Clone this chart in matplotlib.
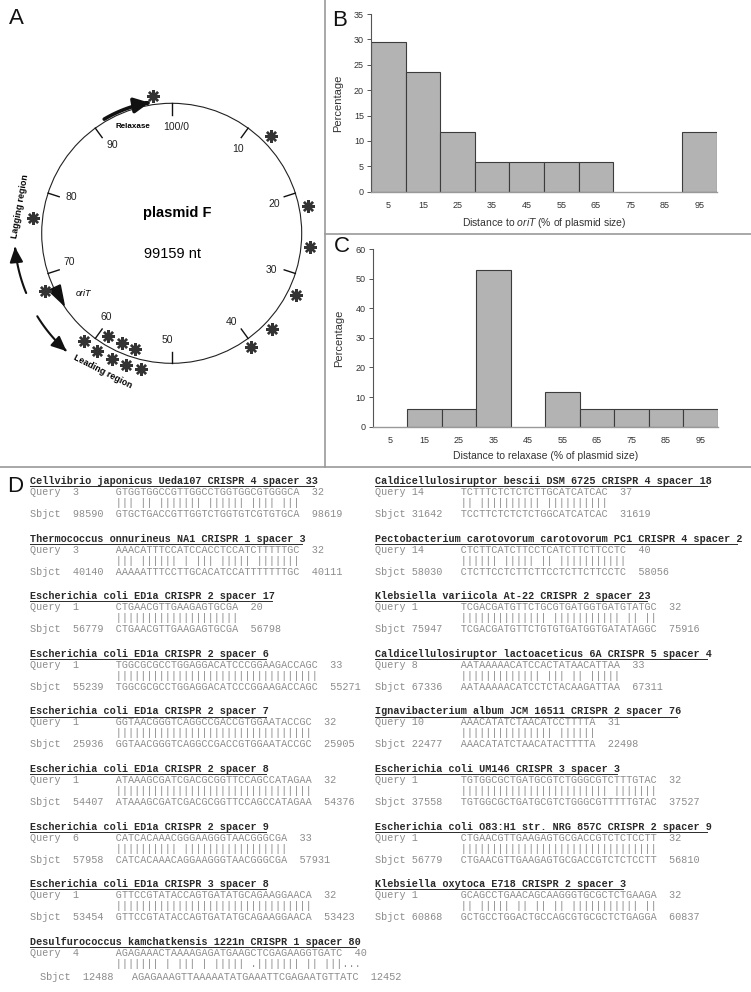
import numpy as np
import matplotlib
matplotlib.use("Agg")
import matplotlib.pyplot as plt
from matplotlib.patches import Circle, FancyArrowPatch, Polygon
from matplotlib.path import Path

W, H = 751, 992
SANS = "Liberation Sans"
MONO = "Liberation Mono"
plt.rcParams["font.family"] = [SANS, "DejaVu Sans"]
plt.rcParams["mathtext.fontset"] = "custom"
plt.rcParams["mathtext.rm"] = SANS
plt.rcParams["mathtext.it"] = SANS + ":italic"

# ---- panel B / C: percentage of protospacers per distance bin ----
bin_centers = [5, 15, 25, 35, 45, 55, 65, 75, 85, 95]
orit_pct = [29.4, 23.5, 11.8, 5.9, 5.9, 5.9, 5.9, 0, 0, 11.8]
relaxase_pct = [0, 5.9, 5.9, 52.9, 0, 11.8, 5.9, 5.9, 5.9, 5.9]

# ---- panel A: plasmid map (positions in % of plasmid) ----
map_ticks = [0, 10, 20, 30, 40, 50, 60, 70, 80, 90]
map_tick_labels = ["100/0", "10", "20", "30", "40", "50", "60", "70", "80", "90"]
hits_outer = [97.8, 12.6, 21.9, 26.6, 32.3, 37.1, 40.3, 76.8, 68.2,
              60.9, 59.0, 57.1, 55.3, 53.5]
hits_inner = [58.8, 56.8, 54.9]
relaxase_span = (91.5, 97.3)
orit_pos = 67.1
lagging_span = (68.8, 73.6)
leading_span = (66.2, 61.6)

# ---- panel D: BLAST alignments ----
left_blocks = [
    ("Cellvibrio japonicus Ueda107 CRISPR 4 spacer 33",
     3, "GTGGTGGCCGTTGGCCTGGTGGCGTGGGCA", 32,
     98590, "GTGCTGACCGTTGGTCTGGTGTCGTGTGCA", 98619),
    ("Thermococcus onnurineus NA1 CRISPR 1 spacer 3",
     3, "AAACATTTCCATCCACCTCCATCTTTTTGC", 32,
     40140, "AAAAATTTCCTTGCACATCCATTTTTTTGC", 40111),
    ("Escherichia coli ED1a CRISPR 2 spacer 17",
     1, "CTGAACGTTGAAGAGTGCGA", 20,
     56779, "CTGAACGTTGAAGAGTGCGA", 56798),
    ("Escherichia coli ED1a CRISPR 2 spacer 6",
     1, "TGGCGCGCCTGGAGGACATCCCGGAAGACCAGC", 33,
     55239, "TGGCGCGCCTGGAGGACATCCCGGAAGACCAGC", 55271),
    ("Escherichia coli ED1a CRISPR 2 spacer 7",
     1, "GGTAACGGGTCAGGCCGACCGTGGAATACCGC", 32,
     25936, "GGTAACGGGTCAGGCCGACCGTGGAATACCGC", 25905),
    ("Escherichia coli ED1a CRISPR 2 spacer 8",
     1, "ATAAAGCGATCGACGCGGTTCCAGCCATAGAA", 32,
     54407, "ATAAAGCGATCGACGCGGTTCCAGCCATAGAA", 54376),
    ("Escherichia coli ED1a CRISPR 2 spacer 9",
     6, "CATCACAAACGGGAAGGGTAACGGGCGA", 33,
     57958, "CATCACAAACAGGAAGGGTAACGGGCGA", 57931),
    ("Escherichia coli ED1a CRISPR 3 spacer 8",
     1, "GTTCCGTATACCAGTGATATGCAGAAGGAACA", 32,
     53454, "GTTCCGTATACCAGTGATATGCAGAAGGAACA", 53423),
    ("Desulfurococcus kamchatkensis 1221n CRISPR 1 spacer 80",
     4, "AGAGAAACTAAAAGAGATGAAGCTCGAGAAGGTGATC", 40,
     12488, "AGAGAAAGTTAAAAATATGAAATTCGAGAATGTTATC", 12452),
]
right_blocks = [
    ("Caldicellulosiruptor bescii DSM 6725 CRISPR 4 spacer 18",
     14, "TCTTTCTCTCTCTTGCATCATCAC", 37,
     31642, "TCCTTCTCTCTCTGGCATCATCAC", 31619),
    ("Pectobacterium carotovorum carotovorum PC1 CRISPR 4 spacer 2",
     14, "CTCTTCATCTTCCTCATCTTCTTCCTC", 40,
     58030, "CTCTTCCTCTTCTTCCTCTTCTTCCTC", 58056),
    ("Klebsiella variicola At-22 CRISPR 2 spacer 23",
     1, "TCGACGATGTTCTGCGTGATGGTGATGTATGC", 32,
     75947, "TCGACGATGTTCTGTGTGATGGTGATATAGGC", 75916),
    ("Caldicellulosiruptor lactoaceticus 6A CRISPR 5 spacer 4",
     8, "AATAAAAACATCCACTATAACATTAA", 33,
     67336, "AATAAAAACATCCTCTACAAGATTAA", 67311),
    ("Ignavibacterium album JCM 16511 CRISPR 2 spacer 76",
     10, "AAACATATCTAACATCCTTTTA", 31,
     22477, "AAACATATCTAACATACTTTTA", 22498),
    ("Escherichia coli UM146 CRISPR 3 spacer 3",
     1, "TGTGGCGCTGATGCGTCTGGGCGTCTTTGTAC", 32,
     37558, "TGTGGCGCTGATGCGTCTGGGCGTTTTTGTAC", 37527),
    ("Escherichia coli O83:H1 str. NRG 857C CRISPR 2 spacer 9",
     1, "CTGAACGTTGAAGAGTGCGACCGTCTCTCCTT", 32,
     56779, "CTGAACGTTGAAGAGTGCGACCGTCTCTCCTT", 56810),
    ("Klebsiella oxytoca E718 CRISPR 2 spacer 3",
     1, "GCAGCCTGAACAGCAAGGGTGCGCTCTGAAGA", 32,
     60868, "GCTGCCTGGACTGCCAGCGTGCGCTCTGAGGA", 60837),
]
# the last alignment shows dots in its match line
desulfo_match = "||||||| | ||| | ||||| .||||||| || |||..."

fig = plt.figure(figsize=(W / 100, H / 100), dpi=100)

# overlay in pixel coordinates for panels A and D
ax = fig.add_axes([0, 0, 1, 1])
ax.set_xlim(0, W)
ax.set_ylim(H, 0)
ax.axis("off")

div = "#9a9a9a"
ax.plot([325, 325], [0, 467], color=div, lw=1.2)
ax.plot([0, W], [467, 467], color=div, lw=1.2)
ax.plot([325, W], [234, 234], color=div, lw=1.2)

for lab, x, y in [("A", 16, 19), ("B", 340, 20), ("C", 342, 246), ("D", 15, 486)]:
    ax.text(x, y, lab, fontsize=16, ha="center", va="center", color="#111")

# ---- panel A ----
CX, CY, R = 171.7, 233.3, 130.0


def pos(pct, rf):
    th = np.deg2rad(np.asarray(pct) * 3.6)
    return CX + R * rf * np.sin(th), CY - R * rf * np.cos(th)


ax.add_patch(Circle((CX, CY), R, fill=False, ec="#222", lw=0.8))
for t, lab in zip(map_ticks, map_tick_labels):
    x0, y0 = pos(t, 1.0)
    x1, y1 = pos(t, 0.91)
    ax.plot([x0, x1], [y0, y1], color="#111", lw=1.0)
    lx, ly = pos(t + 0.6, 0.82)
    ax.text(lx, ly, lab, fontsize=7.5, ha="center", va="center", color="#222")

for rf, hits in [(1.07, hits_outer), (0.93, hits_inner)]:
    hx, hy = pos(hits, rf)
    ax.plot(hx, hy, ls="none", marker=(8, 2, 0), ms=9, mew=1.7, color="#333")


def arc_arrow(p0, p1, rf, lw, hl, hw):
    t = np.linspace(p0, p1, 40)
    xs, ys = pos(t, rf)
    ax.add_patch(FancyArrowPatch(
        path=Path(np.column_stack([xs, ys])),
        arrowstyle=f"-|>,head_length={hl},head_width={hw}",
        mutation_scale=10, lw=lw, color="#111"))


arc_arrow(*relaxase_span, 1.02, 2.6, 0.9, 0.45)
arc_arrow(*lagging_span, 1.21, 1.5, 0.9, 0.4)
arc_arrow(*leading_span, 1.215, 1.5, 0.9, 0.4)

# oriT triangle pointing toward the leading region
tip = pos(orit_pos - 1.5, 0.995)
b1 = pos(orit_pos + 1.0, 0.945)
b2 = pos(orit_pos + 1.0, 1.045)
ax.add_patch(Polygon([tip, b1, b2], closed=True, color="#111"))
ax.text(83, 293, "oriT", fontsize=6.5, style="italic", ha="center", va="center")
ax.text(133, 127, "Relaxase", fontsize=5.8, weight="bold", ha="center", va="center")

lx, ly = pos(77.8, 1.18)
ax.text(lx, ly, "Lagging region", fontsize=6.4, weight="bold", rotation=80,
        ha="center", va="center", rotation_mode="anchor")
lx, ly = pos(57.4, 1.19)
ax.text(lx, ly, "Leading region", fontsize=6.4, weight="bold", rotation=-27,
        ha="center", va="center", rotation_mode="anchor")

ax.text(177, 213, "plasmid F", fontsize=10.5, weight="bold", ha="center", va="center")
ax.text(172, 254, "99159 nt", fontsize=10.5, ha="center", va="center")

# ---- panel D ----
CW = 6.04
FS = 7.25
row_col = "#8c8c8c"
title_col = "#2a2a2a"
y_first, dy = 481, 57.6


def match_line(a, b):
    return "".join("|" if p == q else " " for p, q in zip(a, b))


def draw_block(x0, T, block, left, match=None):
    title, qs, qseq, qe, ss, sseq, se = block
    ax.text(x0, T, title, family=MONO, weight="bold", fontsize=FS,
            color=title_col, va="center")
    ax.plot([x0, x0 + len(title) * CW], [T + 5.2, T + 5.2], color=title_col, lw=0.7)
    if left:
        q = f"Query  {qs:<5}  {qseq}  {qe}"
        s = f"Sbjct  {ss:<5}  {sseq}  {se}"
    else:
        q = f"Query {qs:<5}   {qseq}  {qe}"
        s = f"Sbjct {ss:<5}   {sseq}  {se}"
    m = " " * 14 + (match if match else match_line(qseq, sseq))
    ax.text(x0, T + 11, q, family=MONO, fontsize=FS, color=row_col, va="center")
    ax.text(x0, T + 22, m, family=MONO, fontsize=FS, color=row_col, va="center")
    if match is None:
        ax.text(x0, T + 33, s, family=MONO, fontsize=FS, color=row_col, va="center")
    else:
        s = f"Sbjct  {ss:<5}   {sseq}  {se}"
        ax.text(x0 + 10, T + 35.5, s, family=MONO, fontsize=7.35,
                color=row_col, va="center")


for k, blk in enumerate(left_blocks):
    last = k == len(left_blocks) - 1
    draw_block(30, y_first + k * dy, blk, True, desulfo_match if last else None)
for k, blk in enumerate(right_blocks):
    draw_block(375, y_first + k * dy, blk, False)

# ---- panels B and C ----
bar_fc = "#b3b3b3"
bar_ec = "#3c3c3c"


def histo(rect, vals, ymax, ystep, xlabel):
    a = fig.add_axes(rect)
    xs = [c for c, v in zip(bin_centers, vals) if v > 0]
    hs = [v for v in vals if v > 0]
    a.bar(xs, hs, width=10, color=bar_fc, edgecolor=bar_ec, linewidth=0.8)
    a.set_xlim(0, 100)
    a.set_ylim(0, ymax)
    a.set_yticks(range(0, ymax + 1, ystep))
    a.set_xticks(bin_centers)
    a.patch.set_alpha(0)
    for s in ("top", "right"):
        a.spines[s].set_visible(False)
    a.spines["left"].set_color("#555")
    a.spines["left"].set_linewidth(0.8)
    a.spines["bottom"].set_color("#999")
    a.spines["bottom"].set_linewidth(1.0)
    a.tick_params(axis="y", length=3, width=0.7, color="#555", pad=2,
                  labelsize=6.5, labelcolor="#333")
    a.tick_params(axis="x", length=0, pad=7, labelsize=6.5, labelcolor="#333")
    a.set_ylabel("Percentage", fontsize=8, color="#333", labelpad=8)
    a.set_xlabel(xlabel, fontsize=7.5, color="#333", labelpad=4)
    return a


histo([371 / W, 1 - 191.7 / H, 346 / W, 177.7 / H], orit_pct, 35, 5,
      r"Distance to $\mathit{oriT}$ (% of plasmid size)")
histo([372.7 / W, 1 - 426.7 / H, 345 / W, 177.7 / H], relaxase_pct, 60, 10,
      "Distance to relaxase (% of plasmid size)")

fig.savefig("out.png", dpi=100)
